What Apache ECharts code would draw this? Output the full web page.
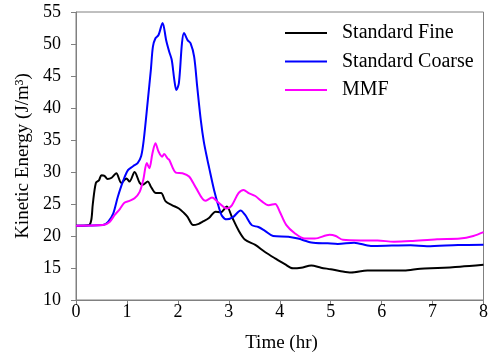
<!DOCTYPE html>
<html><head><meta charset="utf-8">
<script src="https://cdn.jsdelivr.net/npm/echarts@6/dist/echarts.min.js"></script>
<style>html,body{margin:0;padding:0;background:#fff}#c{width:491px;height:364px}</style>
</head><body><div id="c"></div>
<script>
var seriesNames = ['Standard Fine', 'Standard Coarse', 'MMF'];
var xName = 'Time (hr)';
var yName = 'Kinetic Energy (J/m³)';
var xTicks = [0,1,2,3,4,5,6,7,8];
var yTicks = [10,15,20,25,30,35,40,45,50,55];

var fineT = [0,0.25,0.3,0.33,0.39,0.45,0.5,0.56,0.62,0.7,0.79,0.89,0.99,1.05,1.15,1.25,1.31,1.41,1.47,1.57,1.67,1.76,1.89,2.02,2.12,2.19,2.3,2.41,2.48,2.61,2.74,2.84,2.96,3.06,3.19,3.32,3.52,3.71,3.91,4.1,4.26,4.42,4.62,4.81,5.0,5.2,5.4,5.72,6.0,6.44,6.76,7.1,7.54,8.0];
var fineV = [21.6,21.7,22.5,25,28.3,28.7,29.5,29.4,28.9,29.1,29.8,28.3,29.0,28.5,30.0,28.3,28.0,28.5,27.7,26.7,26.7,25.4,24.8,24.3,23.6,23.0,21.7,21.9,22.2,22.8,23.8,23.7,24.6,23.0,20.9,19.4,18.6,17.5,16.5,15.6,14.95,15.05,15.4,15.05,14.8,14.5,14.3,14.6,14.6,14.6,14.9,15.0,15.2,15.5];

var coarseT = [0,0.53,0.63,0.73,0.82,0.92,1.02,1.12,1.21,1.28,1.33,1.41,1.47,1.51,1.56,1.62,1.7,1.77,1.83,1.88,1.93,1.97,2.02,2.08,2.12,2.19,2.25,2.32,2.38,2.45,2.51,2.58,2.61,2.71,2.8,2.87,2.96,3.09,3.23,3.32,3.45,3.58,3.71,3.87,4.17,4.36,4.62,4.94,5.14,5.46,5.79,6.2,6.57,6.89,7.5,8.0];
var coarseV = [21.6,21.7,22.2,23.5,26.1,28.5,30.3,30.9,31.4,32.5,35.0,41.2,46.0,49.6,50.9,51.4,53.3,50.6,48.8,47.5,44.4,42.8,43.9,50.1,51.7,50.6,50.1,48.0,43.3,38.1,34.7,31.9,30.8,27.2,24.6,23.1,22.6,23.0,24.0,23.3,21.7,21.4,20.8,20.0,19.9,19.6,19.0,18.85,18.75,18.95,18.45,18.5,18.55,18.4,18.6,18.65];

var mmfT = [0,0.53,0.66,0.76,0.86,0.95,1.05,1.15,1.25,1.32,1.39,1.44,1.5,1.56,1.62,1.69,1.73,1.8,1.83,1.96,2.09,2.22,2.35,2.54,2.67,2.8,2.96,3.06,3.19,3.29,3.39,3.52,3.65,3.78,3.91,4.0,4.13,4.3,4.49,4.69,4.98,5.1,5.24,5.59,5.92,6.24,6.57,7.09,7.54,7.8,8.0];
var mmfV = [21.6,21.7,22.2,23.3,24.2,25.2,25.5,25.9,26.9,28.75,31.4,30.6,32.9,34.5,33.2,32.4,32.8,32.1,31.9,29.9,29.8,29.3,27.6,25.5,26.0,25.2,24.3,24.8,26.7,27.2,26.7,26.25,25.4,24.8,25.0,23.8,21.7,20.4,19.6,19.6,20.2,20.0,19.4,19.3,19.3,19.1,19.2,19.5,19.6,20.0,20.6];

function pairs(t, v){ return t.map(function(x,i){ return [x, v[i]]; }); }

var font = 'Liberation Serif, Times New Roman, serif';
var axisCol = '#808080';
var chart = echarts.init(document.getElementById('c'), null, {renderer:'canvas'});
function mk(name, t, v, col){
  return {name:name, type:'line', data:pairs(t,v), smooth:0.3, symbol:'none', showSymbol:false,
    lineStyle:{color:col, width:2}, itemStyle:{color:col}};
}
chart.setOption({
  animation:false,
  grid:{left:76, right:4, top:12, bottom:64, show:true, borderColor:axisCol, borderWidth:1},
  legend:{data:seriesNames, orient:'vertical', left:285, top:23, padding:0, icon:'rect', itemWidth:42, itemHeight:2, itemGap:8.5, itemTextGap:16,
    textStyle:{fontFamily:font, fontSize:20, lineHeight:20, color:'#000', fontWeight:'normal', padding:[0,0,0,10]}},
  graphic:[{type:'text', x:281.5, y:343, silent:true,
    style:{text:xName, fontFamily:font, fontSize:19, fontWeight:'normal', fill:'#000', textAlign:'center', textVerticalAlign:'middle'}}],
  xAxis:{type:'value', min:xTicks[0], max:xTicks[xTicks.length-1], interval:1,
    axisLine:{lineStyle:{color:axisCol}}, axisTick:{inside:false, length:5, lineStyle:{color:axisCol}},
    axisLabel:{fontFamily:font, fontSize:18, color:'#000', margin:3}, splitLine:{show:false}},
  yAxis:{type:'value', min:yTicks[0], max:yTicks[yTicks.length-1], interval:5,
    name:yName, nameLocation:'middle', nameGap:43,
    nameTextStyle:{fontFamily:font, fontSize:19, color:'#000', fontWeight:400, textBorderWidth:0},
    axisLine:{show:true, lineStyle:{color:axisCol}}, axisTick:{show:true, inside:false, length:5, lineStyle:{color:axisCol}},
    axisLabel:{fontFamily:font, fontSize:18, color:'#000', margin:15}, splitLine:{show:false}},
  series:[mk(seriesNames[0], fineT, fineV, '#000000'), mk(seriesNames[1], coarseT, coarseV, '#0000ff'), mk(seriesNames[2], mmfT, mmfV, '#ff00ff')]
});
</script></body></html>
